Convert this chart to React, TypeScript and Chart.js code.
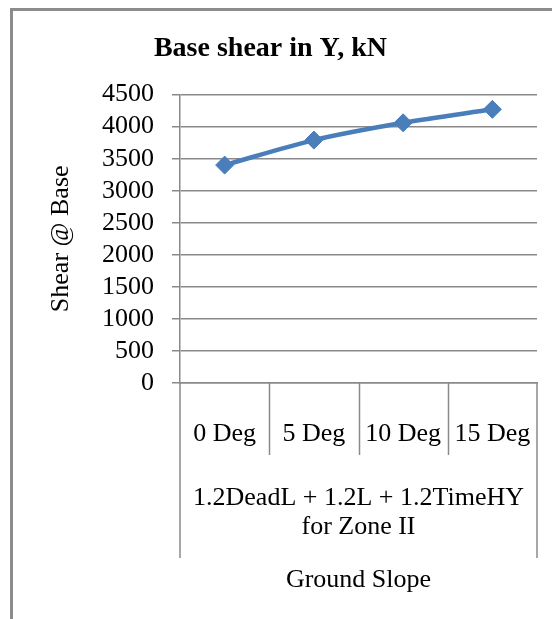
import React, { useEffect, useRef } from "react";
import { Chart, registerables } from "chart.js";

Chart.register(...registerables);

// Chart content
const chartTitle = "Base shear in Y, kN";
const categories = ["0 Deg", "5 Deg", "10 Deg", "15 Deg"];
const shearValues = [3400, 3790, 4060, 4270];
const groupLabelLines = ["1.2DeadL + 1.2L + 1.2TimeHY", "for Zone II"];
const yAxisTitle = "Shear @ Base";
const xAxisTitle = "Ground Slope";
const yMin = 0;
const yMax = 4500;
const yStep = 500;

const SERIF = "'Liberation Serif', serif";
const TEXT_SIZE = 26;
const LINE_BLUE = "#4a7ebb";
const AXIS_GRAY = "#8a8a8a";

// Draws the category dividers and the second-level group label under the x axis
const groupAxisPlugin = {
  id: "groupAxis",
  afterDraw(chart: Chart) {
    const { ctx, chartArea } = chart;
    const { left, right, bottom } = chartArea;
    const n = categories.length;
    const step = (right - left) / n;
    ctx.save();
    ctx.strokeStyle = AXIS_GRAY;
    ctx.lineWidth = 1.5;
    ctx.beginPath();
    for (let i = 1; i < n; i++) {
      const x = Math.round(left + i * step) + 0.5;
      ctx.moveTo(x, bottom);
      ctx.lineTo(x, bottom + 72);
    }
    ctx.moveTo(left, bottom);
    ctx.lineTo(left, bottom + 175);
    ctx.moveTo(right, bottom);
    ctx.lineTo(right, bottom + 175);
    ctx.stroke();

    ctx.fillStyle = "#000";
    ctx.font = `${TEXT_SIZE}px ${SERIF}`;
    ctx.textAlign = "center";
    ctx.textBaseline = "middle";
    const cx = (left + right) / 2;
    groupLabelLines.forEach((line, i) => {
      ctx.fillText(line, cx, bottom + 115 + i * 29);
    });
    ctx.restore();
  },
};

export default function App() {
  const canvasRef = useRef<HTMLCanvasElement | null>(null);

  useEffect(() => {
    const canvas = canvasRef.current;
    if (!canvas) return;
    const chart = new Chart(canvas, {
      type: "line",
      data: {
        labels: categories,
        datasets: [
          {
            data: shearValues,
            borderColor: LINE_BLUE,
            backgroundColor: LINE_BLUE,
            borderWidth: 4.5,
            tension: 0.3,
            pointStyle: "rectRot",
            pointRadius: 9,
            pointBorderWidth: 1,
            pointBorderColor: LINE_BLUE,
            pointBackgroundColor: LINE_BLUE,
          },
        ],
      },
      options: {
        responsive: false,
        animation: false,
        layout: { padding: { left: 4, right: 15, top: 0, bottom: 0 } },
        plugins: {
          legend: { display: false },
          tooltip: { enabled: false },
          title: {
            display: true,
            text: chartTitle,
            color: "#000",
            font: { family: SERIF, size: 28, weight: "bold" },
            padding: { top: 32, bottom: 29 },
          },
        },
        scales: {
          x: {
            type: "category",
            offset: true,
            grid: { display: false },
            border: { display: true, color: AXIS_GRAY, width: 1.5 },
            ticks: {
              color: "#000",
              font: { family: SERIF, size: TEXT_SIZE },
              padding: 28,
              maxRotation: 0,
              autoSkip: false,
            },
            title: {
              display: true,
              text: xAxisTitle,
              color: "#000",
              font: { family: SERIF, size: TEXT_SIZE },
              padding: { top: 0, bottom: 23 },
            },
            afterFit: (s: any) => {
              s.height = 236;
              s.paddingLeft = 0;
              s.paddingRight = 0;
            },
          },
          y: {
            min: yMin,
            max: yMax,
            grid: {
              color: AXIS_GRAY,
              lineWidth: 1.5,
              drawTicks: true,
              tickLength: 8,
            },
            border: { display: true, color: AXIS_GRAY, width: 1.5 },
            ticks: {
              stepSize: yStep,
              autoSkip: false,
              maxTicksLimit: 20,
              color: "#000",
              font: { family: SERIF, size: TEXT_SIZE },
              padding: 18,
              callback: (v: any) => String(v),
            },
            title: {
              display: true,
              text: yAxisTitle,
              color: "#000",
              font: { family: SERIF, size: TEXT_SIZE },
              padding: { top: 42, bottom: 0 },
            },
            afterFit: (s: any) => {
              s.width = 176;
            },
          },
        },
      },
      plugins: [groupAxisPlugin],
    });
    return () => chart.destroy();
  }, []);

  return (
    <>
      <div
        style={{
          position: "absolute",
          left: 10,
          top: 8,
          width: 600,
          height: 700,
          border: "3px solid #8c8c8c",
          boxSizing: "border-box",
          background: "#fff",
        }}
      />
      <canvas
        ref={canvasRef}
        width={552}
        height={619}
        style={{ position: "absolute", left: 0, top: 0, width: 552, height: 619 }}
      />
    </>
  );
}
